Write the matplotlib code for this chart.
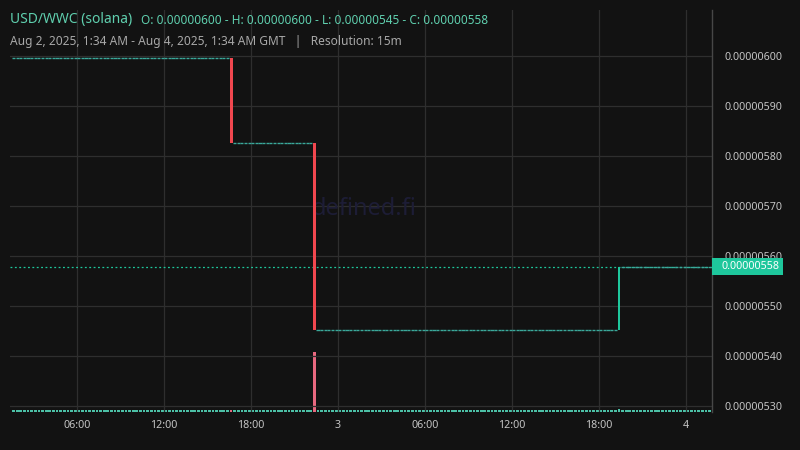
import numpy as np
import matplotlib
matplotlib.use("Agg")
import matplotlib.pyplot as plt

plt.rcParams['font.family'] = ['Noto Sans', 'DejaVu Sans']

# price in units of 1e-8, time in hours from Aug 2 00:00 GMT
candle_start = 1.5
candle_step = 0.25
n_candles = 193
price_levels = [599.6, 582.6, 545.3, 557.9]
change_hours = [16.5, 22.25, 43.25]
vol_base = 1.6
vol_spikes = {16.5: 2.0, 22.25: 60.0, 43.25: 3.5}
last_price = 557.9

tick_hours = [6, 12, 18, 24, 30, 36, 42, 48]
tick_labels = ['06:00', '12:00', '18:00', '3', '06:00', '12:00', '18:00', '4']
price_ticks = [530, 540, 550, 560, 570, 580, 590, 600]

bg = '#121212'
teal = '#3aa89a'
green = '#1ec79c'
red = '#f0474f'
pink = '#e8687f'

# build candles
times = candle_start + candle_step * np.arange(n_candles)
opens, closes, vols = [], [], []
level = 0
for t in times:
    o = price_levels[level]
    if level < len(change_hours) and abs(t - change_hours[level]) < 1e-6:
        level += 1
    c = price_levels[level]
    opens.append(o)
    closes.append(c)
    vols.append(vol_spikes.get(round(t, 2), vol_base))
opens = np.array(opens)
closes = np.array(closes)
vols = np.array(vols)

fig = plt.figure(figsize=(8, 4.5), dpi=100, facecolor=bg)
ax = fig.add_axes([0.0125, 0.0844, 0.8775, 0.8934])
ax.set_facecolor(bg)

xmin, xmax = 1.38, 49.79
ymin, ymax = 528.86, 609.26

# volume overlay
axv = ax.twinx()
axv.set_ylim(0, 60 * 402 / 60)
axv.set_xlim(xmin, xmax)
axv.axis('off')
vcol = [pink if c < o else '#4cc0a6' for o, c in zip(opens, closes)]
axv.bar(times + candle_step / 2, vols, width=candle_step * 0.75, color=vcol, linewidth=0)

# grid
for p in price_ticks:
    ax.axhline(p, color='#2e2e2e', lw=0.9, zorder=0)
for h in tick_hours:
    ax.axvline(h, color='#2e2e2e', lw=0.9, zorder=0)

# watermark
ax.text(0.505, 0.505, 'defined.fi', transform=ax.transAxes, ha='center', va='center',
        fontsize=17, color='#1d1d36', zorder=0)

# candles
for t, o, c in zip(times, opens, closes):
    x = t + candle_step / 2
    if o == c:
        ax.hlines(o, t + candle_step * 0.05, t + candle_step * 0.9, color=teal, lw=1.0, zorder=3)
    else:
        col = green if c > o else red
        ax.add_patch(plt.Rectangle((x - 0.1, min(o, c)), 0.2, abs(c - o), color=col, lw=0, zorder=4))

# last price line and label
ax.axhline(last_price, color=green, lw=0.9, ls=(0, (1.5, 2)), zorder=2)

ax.set_xlim(xmin, xmax)
ax.set_ylim(ymin, ymax)
ax.set_zorder(axv.get_zorder() + 1)
ax.patch.set_visible(False)

ax.yaxis.tick_right()
ax.set_yticks(price_ticks)
ax.set_yticklabels([f'{p * 1e-8:.8f}' for p in price_ticks])
ax.set_xticks(tick_hours)
ax.set_xticklabels(tick_labels)
for lbl in ax.get_xticklabels():
    if lbl.get_text() in ('3', '4'):
        lbl.set_fontweight('bold')
        lbl.set_color('#e0e0e0')
ax.tick_params(axis='y', length=0, pad=9, labelsize=7.7, labelcolor='#c4c4c4')
ax.tick_params(axis='x', length=0, pad=6, labelsize=7.7, labelcolor='#c4c4c4')
for s in ['top', 'left', 'bottom']:
    ax.spines[s].set_visible(False)
ax.spines['right'].set_color('#474747')
ax.spines['right'].set_linewidth(1)

# price tag on the axis
ytr = ax.get_yaxis_transform()
ax.add_patch(plt.Rectangle((1.0, last_price - 1.7), 71 / 702, 3.4, transform=ytr,
                           color=green, lw=0, clip_on=False, zorder=6))
ax.text(1.0 + 10 / 702, last_price, f'{last_price * 1e-8:.8f}', transform=ytr,
        ha='left', va='center', fontsize=7.7, color='white', zorder=7)

# header
fig.text(10 / 800, 1 - 20 / 450, 'USD/WWC (solana)', fontsize=10, color='#5fcfae', va='center')
fig.text(141 / 800, 1 - 20 / 450,
         'O: 0.00000600 - H: 0.00000600 - L: 0.00000545 - C: 0.00000558',
         fontsize=8.5, color='#5fcfae', va='center')
fig.text(10 / 800, 1 - 41 / 450,
         'Aug 2, 2025, 1:34 AM - Aug 4, 2025, 1:34 AM GMT   |   Resolution: 15m',
         fontsize=8.6, color='#a8a8a8', va='center')

fig.savefig('out.png', dpi=100, facecolor=bg)
